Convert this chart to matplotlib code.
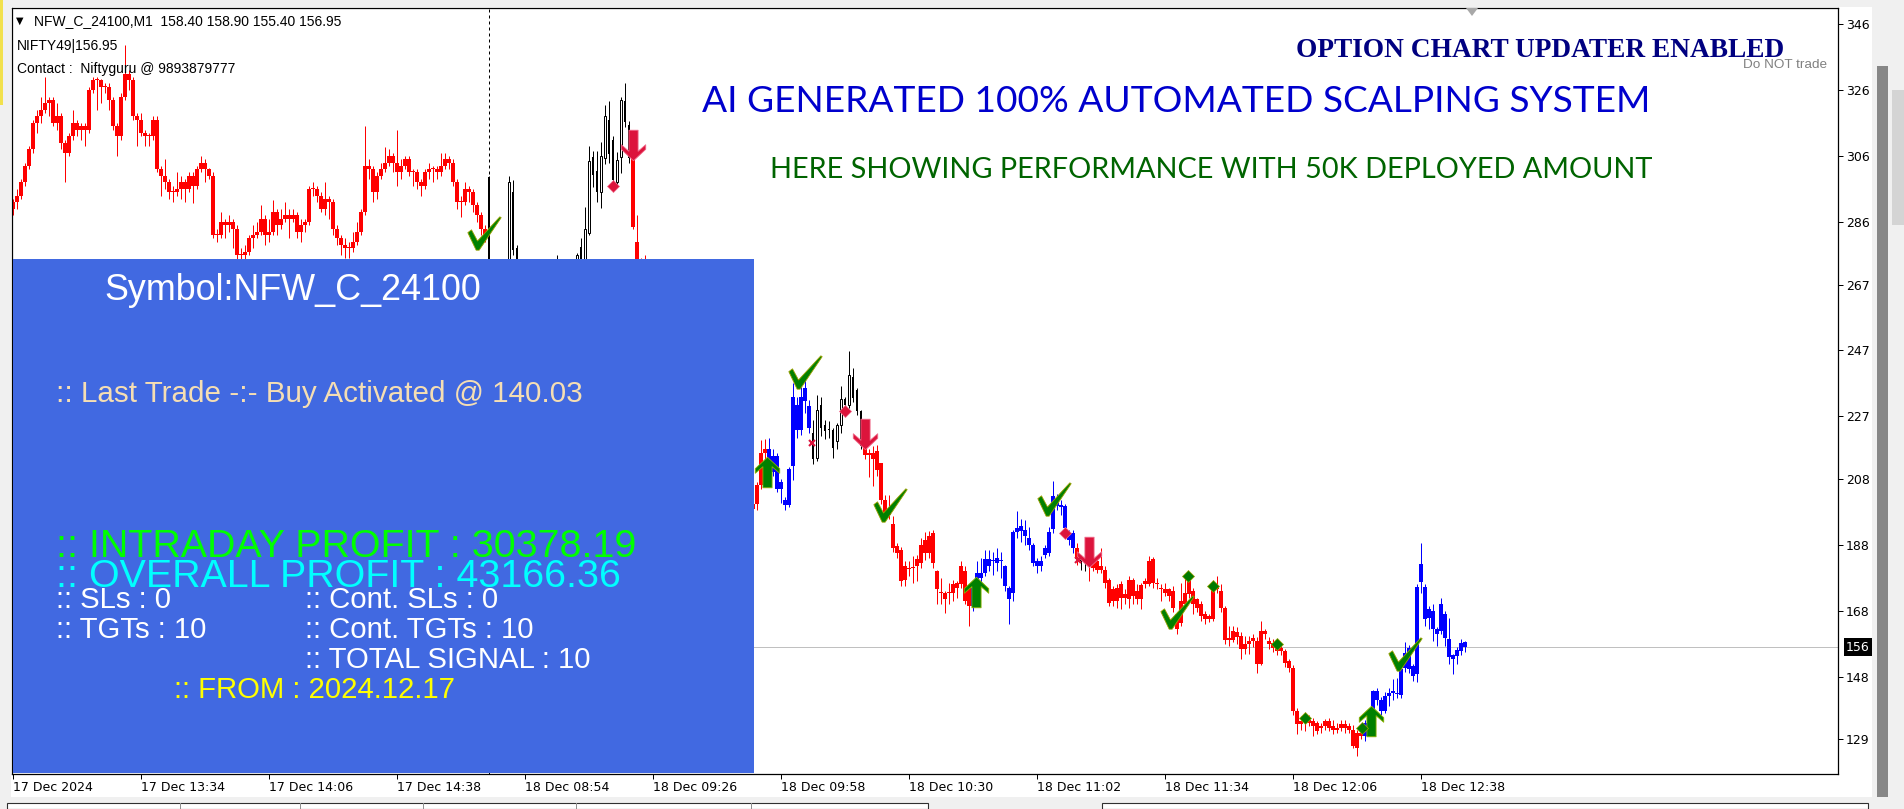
import numpy as np
import matplotlib.pyplot as plt
import matplotlib.transforms as mtransforms
from matplotlib.path import Path
from matplotlib.patches import Rectangle, Polygon

# ---- данные: минутные свечи NFW_C_24100 (17-18 Dec) ----
bar_open = [
    290, 292, 294, 298, 303, 308, 316, 318, 320, 322,
    323, 316, 318, 310, 307, 312, 316, 314, 315, 314,
    326, 329, 329, 327, 327, 323, 315, 312, 324, 331,
    329, 318, 317, 313, 312, 312, 317, 302, 300, 298,
    295, 295, 296, 298, 296, 300, 297, 302, 304, 302,
    300, 282, 282, 286, 285, 286, 284, 276, 276, 277,
    281, 282, 283, 287, 282, 283, 289, 285, 287, 288,
    287, 288, 283, 285, 286, 296, 296, 294, 290, 293,
    292, 284, 281, 279, 278, 278, 280, 283, 289, 303,
    302, 295, 300, 302, 304, 306, 304, 301, 303, 305,
    301, 301, 298, 297, 301, 302, 302, 301, 303, 305,
    304, 298, 292, 292, 296, 295, 291, 288, 284,
    299.6, 262, 258, 265, 260, 268, 295, 278, 265, 262,
    258, 255, 260, 263, 259, 256, 261, 264, 268, 265,
    262, 266, 270, 278.5, 274.5, 282.7, 305.8, 301.5, 295.2, 305.3,
    317, 311, 298.2, 305.8, 322.6, 315.4, 313.3, 280, 274, 270,
    273, 268, 262, 258, 255, 250, 246, 248, 244, 240,
    236, 238, 233, 229, 226, 228, 224, 220, 217, 214,
    210, 212, 208, 205, 203, 201, 199, 200.5, 206.3, 216,
    217, 210, 215, 205, 201.7, 200.2, 212, 230.5, 223, 231.8,
    230, 222, 214.4, 230.5, 224.5, 223, 223, 219.4, 224.5, 232.3,
    230.5, 239, 234.9, 228.5, 218, 216, 216, 216.4, 212.9, 201.7,
    198.5, 194.2, 187.6, 186.6, 181.5, 181, 181, 183.6, 188, 189.6,
    190.6, 191.6, 180, 173.5, 173.5, 173.5, 176, 176.5, 181.5, 180,
    175.5, 169.4, 177.5, 179.5, 179.5, 183.6, 183, 182.6, 183, 181.5,
    175, 173.5, 192, 193.6, 192.6, 190, 188, 183, 181.5, 185,
    185.6, 192.7, 201.7, 200, 199.7, 191.6, 191.6, 187, 184, 183,
    184, 183.5, 183, 181.6, 180.5, 177.5, 174.5, 175, 176, 173,
    177.5, 177.5, 174, 175.7, 177, 183, 183.6, 176, 174.5, 174.5,
    174.5, 174, 167, 171, 170, 177.5, 174, 171.5, 170, 167,
    166.4, 165.4, 175.5, 174, 169, 159.8, 162, 161.5, 160.3, 158,
    158.8, 159.8, 158.8, 151.8, 161.9, 158.8, 158.3, 157.8, 156.8, 155.8,
    152.8, 150.7, 137.6, 134.6, 135.6, 135, 134.6, 134, 133, 134.6,
    134.6, 133, 132.5, 133.6, 133.6, 133, 132, 131, 131, 130,
    134, 137.1, 143.7, 141, 137.6, 142.2, 143.2, 143.2, 142.5, 150.8,
    156.8, 151.3, 148.8, 176.7, 175.3, 165.9, 168, 162.4, 161.9, 167,
    159.4, 154.5, 154.3, 155.8, 158.4,
]
bar_high = [
    293, 296, 299, 304, 309, 317, 320, 324, 330, 324,
    324, 322, 319, 311, 313, 320, 317, 316, 316, 327,
    330, 330, 329.5, 328, 328, 324, 316, 325, 339.6, 332,
    330, 319, 319, 314, 313, 318, 318, 303, 305, 299,
    297, 301, 300, 299, 301, 301, 303, 306, 305, 302.5,
    301, 284, 289, 287, 288, 287, 285, 278, 279, 282,
    285, 286, 291, 288, 287, 292.6, 290, 290, 292, 290,
    290, 289, 287, 287, 297, 298.2, 297, 295, 298, 294,
    293, 285, 282, 281, 280, 283, 286, 290, 315, 305,
    303, 301, 304, 308.8, 308, 307, 313.9, 305, 306, 306,
    302, 302, 299, 302, 304, 303, 303, 306.8, 306.8, 306,
    305, 299, 294, 298, 297, 296, 292, 289, 285,
    300, 264, 266, 267, 269, 300, 298.7, 279, 267, 264,
    260, 261, 265, 264, 261, 262, 266, 276, 269, 267,
    267, 272, 276.5, 281, 290.6, 309, 307.6, 307.5, 310.3, 321.4,
    322.6, 312, 307.3, 324, 328, 316.5, 313.5, 288, 275, 276,
    274, 269, 263, 259, 256, 251, 250, 249, 245, 241,
    240, 239, 234, 230, 230, 229, 225, 221, 218, 215,
    214, 213, 209, 206, 204, 202, 201, 207, 219.8, 220,
    220.5, 217, 216, 208, 202.5, 211.5, 237, 233, 236, 240.1,
    232, 226, 233.6, 233, 226, 225.5, 223.5, 225, 236.1, 233,
    246.7, 241.6, 235.5, 229, 218.5, 217, 218, 218.4, 213, 203,
    203, 196.7, 188.5, 187.5, 183, 183, 184.5, 185, 190, 192,
    192.1, 192.5, 180.5, 178, 174, 176.5, 177.5, 177, 183, 181.5,
    176, 176, 183, 184, 186.6, 186.5, 186, 187, 186, 182,
    175.5, 192.5, 198.2, 196, 195.5, 193.5, 188.5, 184, 184.5, 188,
    193.5, 207.3, 203.5, 201.5, 200.5, 192.5, 192.5, 188.5, 185, 184.5,
    185.5, 186, 184.5, 187.1, 181.5, 178, 175.5, 176, 177, 174.5,
    178.5, 178, 176, 176.5, 178, 184.5, 184.2, 178, 176, 176.5,
    175, 175.5, 167.5, 176.5, 178, 179.5, 175, 172, 171, 168,
    167, 176, 178.5, 176, 169.5, 163.4, 163.5, 163, 161.5, 160.5,
    160.5, 161, 160, 164.9, 162.5, 160, 159.5, 158.5, 158, 156.5,
    153.5, 151.5, 138.5, 136, 136.5, 136.5, 135.5, 134.5, 134, 135.1,
    135.5, 135, 134, 135, 135, 134, 133.5, 132, 133, 135,
    137.5, 144, 144.5, 142, 143.5, 144.5, 147.2, 147.5, 151, 158.4,
    157.5, 152, 176, 188.7, 176, 169.5, 170, 163, 172, 168,
    165.7, 155, 157, 159.6, 158.9,
]
bar_low = [
    288, 290, 293, 297, 302, 307, 313, 316, 319, 318,
    315, 314, 308, 298, 306, 311, 312, 311, 309, 313,
    325, 320, 322, 325, 320, 314, 306, 311, 323, 326,
    317, 309, 312, 309, 309, 311, 301, 294, 296, 293,
    292, 294, 293, 292, 295, 291.6, 296, 301, 298, 299,
    281, 280, 281, 281, 283, 278, 272, 272, 273, 276,
    278, 281, 282, 279, 280, 282, 282, 284, 286, 281,
    286, 281, 280, 283, 285, 294, 292, 289, 288, 287,
    282, 279, 276, 275, 275, 277, 279, 282, 288, 299,
    292, 293, 299, 301, 303, 301, 297, 299, 302, 300,
    297, 296, 294, 296, 299, 298, 299, 300, 302, 302,
    297, 290, 287.6, 291, 292, 289, 286, 282, 280,
    260, 256, 257, 258, 259, 267, 276, 263, 260, 256,
    253, 254, 259, 257, 254, 255, 260, 263, 263, 260,
    261, 265, 269, 273, 273.5, 282, 296.7, 292, 290.3, 303.7,
    304, 297, 297, 300.7, 314.9, 304, 284, 272, 268, 269,
    266, 260, 256, 253, 248, 244, 245, 242, 238, 234,
    235, 231, 227, 224, 225, 222, 218, 215, 212, 208,
    209, 206, 203, 201, 199, 197, 198.5, 198.5, 205, 212,
    209, 209, 204, 200.7, 198.5, 199.5, 207.8, 220.4, 221.5, 228,
    222, 212.6, 213.5, 221, 220, 220.5, 214.4, 217, 222, 229,
    229.5, 231.5, 227.5, 217, 214, 208.5, 205.8, 209, 200.5, 196.5,
    196, 186, 184, 175.5, 175.5, 178.7, 176.5, 177, 181, 183.5,
    184, 181, 170, 170, 167.4, 170, 171, 172, 175, 170,
    163.4, 168, 177, 176.5, 178.5, 180, 179, 180, 178, 174,
    163.9, 171, 190, 189, 188, 186.5, 181.5, 179.5, 180, 184,
    184.5, 191.5, 198.5, 197, 192, 188, 185.5, 182, 180.5, 180,
    177, 180, 179.5, 179.5, 175, 169.5, 169.5, 169, 168.5, 170,
    169, 170, 170, 168.5, 175, 175.5, 175, 174.5, 171, 172.5,
    171, 167.5, 160.9, 163.5, 169.5, 172, 167, 167.5, 165, 164,
    164.5, 165, 173.5, 167.5, 158, 157.3, 158.5, 158, 153.3, 155,
    155, 157, 149.2, 151.5, 159.5, 156.5, 155.5, 154.5, 154.5, 151,
    149.5, 136.5, 130.5, 132, 131.5, 133, 130, 130.5, 131, 132,
    131.5, 130.5, 131, 131.5, 131, 131, 126.5, 124, 129, 128.5,
    133, 136.5, 139.5, 136.5, 137, 139, 141, 141.5, 141.5, 149.5,
    149, 146.8, 146.5, 173.5, 163.4, 162.5, 158.9, 157.4, 161, 157.4,
    151.8, 148.8, 152, 154.5, 155.4,
]
bar_close = [
    292, 294, 298, 303, 308, 316, 318, 320, 322, 323,
    316, 318, 310, 307, 312, 316, 314, 315, 314, 326,
    329, 329, 327, 327, 323, 315, 312, 324, 331, 329,
    318, 317, 313, 312, 312, 317, 302, 300, 298, 295,
    295, 296, 298, 296, 300, 297, 302, 304, 302, 300,
    282, 282, 286, 285, 286, 284, 276, 276, 277, 281,
    282, 283, 287, 282, 283, 289, 285, 287, 288, 287,
    288, 283, 285, 286, 296, 296, 294, 290, 293, 292,
    284, 281, 279, 278, 278, 280, 283, 289, 303, 302,
    295, 300, 302, 304, 306, 304, 301, 303, 305, 301,
    301, 298, 297, 301, 302, 302, 301, 303, 305, 304,
    298, 292, 292, 296, 295, 291, 288, 284, 281,
    262, 258, 265, 260, 268, 298, 277.5, 265, 262, 258,
    255, 260, 263, 259, 256, 261, 264, 268, 265, 262,
    266, 270, 276, 274.5, 284, 304.5, 300.2, 295.2, 306, 318,
    306.6, 298.7, 304.8, 323, 316.4, 305.3, 284.6, 274, 270, 273,
    268, 262, 258, 255, 250, 246, 248, 244, 240, 236,
    238, 233, 229, 226, 228, 224, 220, 217, 214, 210,
    212, 208, 205, 203, 201, 199, 200.5, 206.3, 216, 217,
    210, 215, 205, 207, 200.2, 211, 233, 223, 233, 235.6,
    223.5, 214.2, 229, 223.5, 222.5, 222.8, 217.4, 224.5, 232.3, 230.6,
    239.6, 232.6, 228.5, 218, 215.4, 215.4, 214, 210.8, 201.7, 197.7,
    197, 187.1, 185.6, 177, 177.5, 180.8, 181, 181.5, 182.6, 185.6,
    185.6, 182.6, 174.5, 173.5, 171.5, 173.5, 173.5, 175, 176, 171,
    169.4, 175, 179.5, 178, 183.6, 181.5, 183, 184, 183, 175.5,
    171.6, 192, 193, 192.1, 190.6, 188, 182.6, 181.5, 183, 187,
    192, 202.7, 199.7, 199.5, 193.2, 189.6, 187.1, 183.6, 183, 182.5,
    181.5, 181, 180.5, 180.5, 176.5, 170.4, 171, 171, 172, 172,
    171.5, 172.5, 171.5, 171.5, 176, 176, 176.5, 176, 174.5, 173.5,
    172.5, 169, 162.4, 164.4, 173.5, 173, 170, 169, 166.4, 165.4,
    165.4, 175.5, 174.5, 169, 159.3, 159.3, 159.3, 160, 156.3, 156.3,
    157.8, 158.8, 151.8, 161.9, 161, 157.8, 156.8, 155.8, 155.8, 152.3,
    150.7, 137.6, 133.6, 133.6, 134.6, 134, 133.1, 131.6, 132.5, 133.1,
    132.6, 132, 132, 132.6, 132.6, 132, 127, 126.5, 130, 134,
    136, 143.7, 141, 137.6, 142.2, 143.2, 143.2, 142.7, 150.5, 155.3,
    150.3, 148.3, 175.3, 182.1, 165.6, 168.5, 162.4, 160.9, 170, 159.9,
    154.1, 153.5, 156, 158.2, 156.95,
]

# окраска баров индикатором: (режим, число баров подряд)
trend_runs = [("red", 119), ("plain", 36), ("red", 34), ("blue", 11), ("plain", 13),
              ("red", 27), ("blue", 26), ("red", 1), ("plain", 2), ("red", 69), ("blue", 26)]
day_break = 119

time_ticks = [0, 32, 64, 96, 128, 160, 192, 224, 256, 288, 320, 352]
time_labels = ["17 Dec 2024", "17 Dec 13:34", "17 Dec 14:06", "17 Dec 14:38",
               "18 Dec 08:54", "18 Dec 09:26", "18 Dec 09:58", "18 Dec 10:30",
               "18 Dec 11:02", "18 Dec 11:34", "18 Dec 12:06", "18 Dec 12:38"]
price_ticks = [346, 326, 306, 286, 267, 247, 227, 208, 188, 168, 148, 129]

# сигналы (бар, цена)
tgt_checks = [(117.7, 282.6), (198, 240.5), (219.3, 200), (260.3, 201.8), (291, 167.5), (348, 154.8)]
buy_arrows = [(188.6, 210.2), (240.8, 173.6), (339.6, 134.5)]
sell_arrows = [(155, 309.3), (213, 221.8), (268.9, 185.8)]
exit_diamonds = [(150, 296.9), (208, 228.7), (263, 191.5)]
tgt_diamonds = [(293.8, 178.5), (300, 175.5), (315.9, 157.8), (323, 135.6), (337.2, 132.6)]
cross_marks = [(199.75, 219), (266.25, 183.3)]

# панель статистики
symbol = "NFW_C_24100"
last_trade = "Buy Activated @ 140.03"
intraday_profit = 30378.19
overall_profit = 43166.36
sl_count, tgt_count = 0, 10
cont_sl, cont_tgt, total_signal = 0, 10, 10
from_date = "2024.12.17"

# ---- рисунок ----
W, H = 1904, 809
fig = plt.figure(figsize=(W / 100, H / 100), dpi=100)
fig.patch.set_facecolor("white")


def fx(x):
    return x / W


def fy(y):
    return 1 - y / H


ax = fig.add_axes([fx(12), fy(774), (1838 - 12) / W, (774 - 8) / H])
ax.set_xlim(-0.25, 456.25)
ax.set_ylim(118.5, 350.9)
ax.set_facecolor("white")

o = np.array(bar_open, float)
h = np.array(bar_high, float)
l = np.array(bar_low, float)
c = np.array(bar_close, float)
x = np.arange(len(c))
trend = np.repeat([r[0] for r in trend_runs], [r[1] for r in trend_runs])
px = 0.72  # один пиксель в пунктах
body_lo = np.minimum(o, c)
body_h = np.maximum(np.abs(c - o), 0.35)

for name, col in [("red", "#ff0000"), ("blue", "#0000ff")]:
    m = trend == name
    ax.vlines(x[m], l[m], h[m], color=col, lw=px, zorder=2)
    ax.bar(x[m], body_h[m], bottom=body_lo[m], width=0.78, color=col, lw=0, zorder=2)

m = trend == "plain"
ax.vlines(x[m], l[m], h[m], color="black", lw=px, zorder=2)
bear = m & (c < o)
bull = m & (c >= o)
ax.bar(x[bear], body_h[bear], bottom=body_lo[bear], width=0.7, color="black", lw=0, zorder=2)
ax.bar(x[bull], body_h[bull], bottom=body_lo[bull], width=0.55, facecolor="white",
       edgecolor="black", lw=px, zorder=3)

# линия текущей цены и разделитель дней
ax.axhline(c[-1], color="#c0c0c0", lw=px, zorder=1)
ax.axvline(day_break, color="black", lw=px, ls=(0, (3, 3)), zorder=1)

# значки сигналов
arrow_up = Path([(0, 1), (0.8, 0.25), (0.8, -0.05), (0.3, 0.38), (0.3, -1), (-0.3, -1),
                 (-0.3, 0.38), (-0.8, -0.05), (-0.8, 0.25), (0, 1)], closed=True)
arrow_dn = Path(arrow_up.vertices * [1, -1], closed=True)
check = Path([(-1, 0.05), (-0.78, 0.22), (-0.42, -0.45), (0.92, 1.0), (1.0, 0.95),
              (-0.32, -1.0), (-0.5, -1.0), (-1, 0.05)], closed=True)


def marks(pts, **kw):
    xs, ys = zip(*pts)
    ax.plot(xs, ys, ls="none", zorder=5, **kw)


marks(tgt_checks, marker=check, ms=24, mfc="#008000", mec="#9aa000", mew=0.6)
marks(buy_arrows, marker=arrow_up, ms=22, mfc="#008000", mec="#8db000", mew=0.6)
marks(sell_arrows, marker=arrow_dn, ms=22, mfc="#dc143c", mec="#f06a8a", mew=0.6)
marks(exit_diamonds, marker="D", ms=6.5, mfc="#dc143c", mec="#f06a8a", mew=0.5)
marks(tgt_diamonds, marker="D", ms=6.5, mfc="#007a00", mec="#9aa000", mew=0.5)
marks(cross_marks, marker="x", ms=5, mec="#dc143c", mew=1.5)

# оси
for s in ax.spines.values():
    s.set_color("black")
    s.set_linewidth(0.9)
ax.yaxis.tick_right()
ax.set_yticks(price_ticks)
ax.set_yticklabels([str(v) for v in price_ticks])
ax.tick_params(axis="y", direction="out", length=3.6, width=px, pad=2, labelsize=9)
ax.set_xticks(time_ticks)
ax.set_xticklabels(time_labels)
ax.tick_params(axis="x", direction="out", length=3.6, width=px, pad=1.5, labelsize=9)
for lab in ax.get_xticklabels():
    lab.set_horizontalalignment("left")

tr = mtransforms.blended_transform_factory(ax.transAxes, ax.transData) + \
    mtransforms.ScaledTranslation(8 / 100, 0, fig.dpi_scale_trans)
ax.text(1.0, c[-1], str(int(c[-1])), transform=tr, ha="left", va="center", fontsize=9,
        color="white", clip_on=False,
        bbox=dict(boxstyle="square,pad=0.2", fc="black", ec="none"))

# обрамление окна терминала
chrome = [
    (0, 0, W, 7, "#f0f0f0"),
    (0, 0, 11, H, "#f0f0f0"),
    (0, 0, 3, 105, "#f2e14c"),
    (1872, 0, 32, H, "#f0f0f0"),
    (1892, 90, 12, 135, "#d4d4d4"),
    (1877, 66, 11, 731, "#878787"),
    (0, 797, W, 12, "#f0f0f0"),
]
for x0, y0, w0, h0, col in chrome:
    fig.add_artist(Rectangle((fx(x0), fy(y0 + h0)), w0 / W, h0 / H, transform=fig.transFigure,
                             fc=col, ec="none", zorder=1))
for x0, x1 in [(7, 928), (1102, 1868)]:
    fig.add_artist(Rectangle((fx(x0), fy(809)), (x1 - x0) / W, 6 / H, transform=fig.transFigure,
                             fc="white", ec="#303030", lw=0.8, zorder=1))
for xd in [180, 300, 423, 576, 751]:
    fig.add_artist(Rectangle((fx(xd), fy(809)), 1 / W, 6 / H, transform=fig.transFigure,
                             fc="#909090", ec="none", zorder=1))
fig.add_artist(Polygon([(fx(1466), fy(8)), (fx(1478), fy(8)), (fx(1472), fy(16))],
                       closed=True, transform=fig.transFigure, fc="#a8a8a8", ec="none", zorder=1))

# синяя панель
fig.add_artist(Rectangle((fx(13), fy(773)), (754 - 13) / W, (773 - 259) / H,
                         transform=fig.transFigure, fc="#4169e1", ec="none", zorder=4))


def label(xp, yp, s, **kw):
    kw.setdefault("family", "Liberation Sans")
    return fig.text(fx(xp), fy(yp), s, va="baseline", zorder=6, **kw)


label(104, 300, "Symbol:" + symbol, fontsize=25.8, color="white")
label(56, 402, ":: Last Trade -:- " + last_trade, fontsize=21.3, color="#f5deb3")
label(56, 557, f":: INTRADAY PROFIT : {intraday_profit:.2f}", fontsize=28.4, color="#00ff00")
label(56, 587, f":: OVERALL PROFIT : {overall_profit:.2f}", fontsize=28.4, color="#00ffff")
label(56, 608, f":: SLs : {sl_count}", fontsize=21.2, color="white")
label(305, 608, f":: Cont. SLs : {cont_sl}", fontsize=21.2, color="white")
label(56, 638, f":: TGTs : {tgt_count}", fontsize=21.2, color="white")
label(305, 638, f":: Cont. TGTs : {cont_tgt}", fontsize=21.2, color="white")
label(305, 668, f":: TOTAL SIGNAL : {total_signal}", fontsize=21.2, color="white")
label(174, 698, ":: FROM : " + from_date, fontsize=21.2, color="#ffff00")

# заголовок графика
label(16, 24, "\u25bc", fontsize=7, family="DejaVu Sans", color="black")
label(34, 25, f"{symbol},M1  {o[-1]:.2f} {h[-1]:.2f} {l[-1]:.2f} {c[-1]:.2f}",
      fontsize=10, color="black")
label(17, 50, f"NIFTY49|{c[-1]:.2f}", fontsize=10, color="black")
label(17, 73, "Contact :  Niftyguru @ 9893879777", fontsize=10, color="black")

label(1540, 57, "OPTION CHART UPDATER ENABLED", ha="center", family="Liberation Serif",
      weight="bold", fontsize=19.7, color="#000080")
label(1827, 68, "Do NOT trade", ha="right", fontsize=9.7, color="#808080")
t1 = label(1176, 112, "AI GENERATED 100% AUTOMATED SCALPING SYSTEM", ha="center",
           family="Lato", fontsize=30, color="#0000cd")
t2 = label(1211, 178, "HERE SHOWING PERFORMANCE WITH 50K DEPLOYED AMOUNT", ha="center",
           family="Lato", fontsize=24, color="#006400")

# подгон ширины надписей под оригинал
rend = fig.canvas.get_renderer()
for t, wpx in [(t1, 948), (t2, 885)]:
    w = t.get_window_extent(rend).width
    t.set_fontsize(t.get_fontsize() * wpx / w)

fig.savefig("out.png", dpi=100)
